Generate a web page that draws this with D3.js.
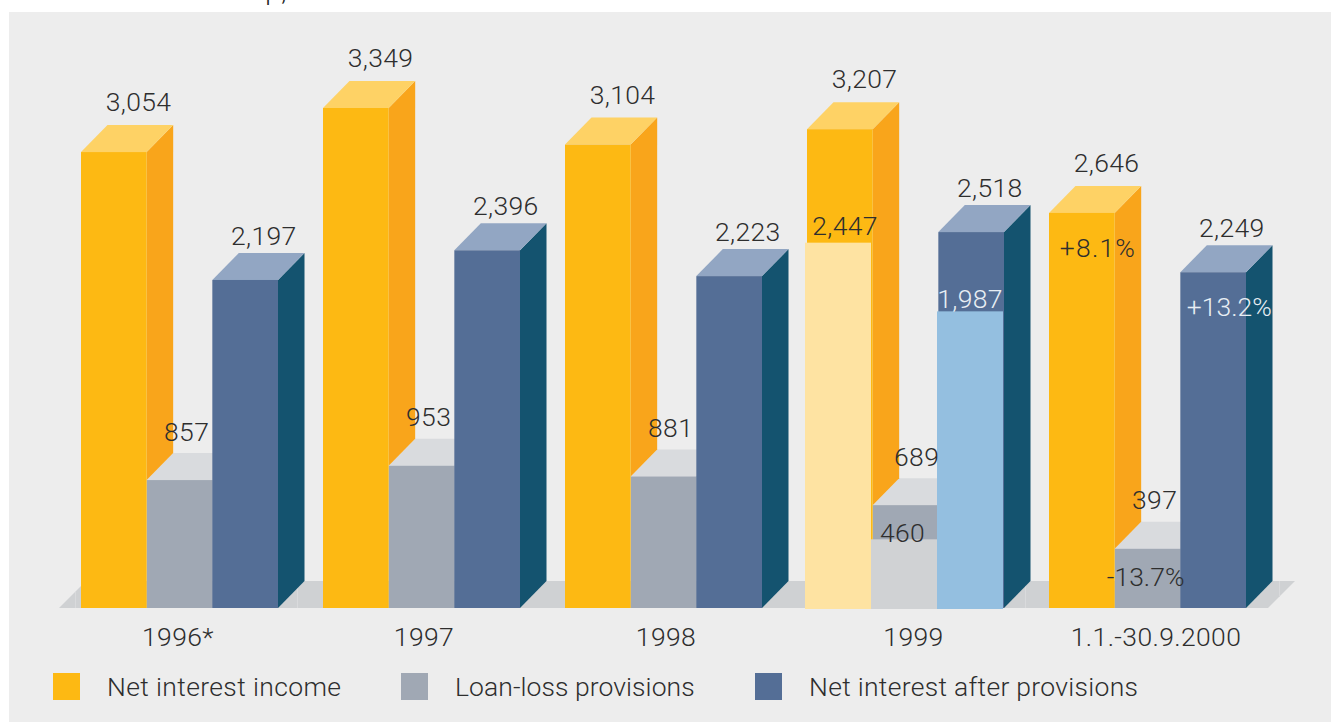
<!DOCTYPE html>
<html>
<head>
<meta charset="utf-8">
<script src="https://cdn.jsdelivr.net/npm/d3@7"></script>
<style>
  html, body { margin: 0; padding: 0; background: #fff; overflow: hidden; }
  svg { display: block; }
  text { font-family: Roboto, "Open Sans", sans-serif; font-weight: 300; font-size: 26.5px; letter-spacing: 0.37px; fill: #2e2e2e; }
</style>
</head>
<body>
<svg id="chart" width="1331" height="722"></svg>
<script>
// Figures in EUR million
const caption = "Net interest in Group, € m";
const periods = ["1996*", "1997", "1998", "1999", "1.1.-30.9.2000"];
const seriesNames = ["Net interest income", "Loan-loss provisions", "Net interest after provisions"];
const netInterestIncome = [3054, 3349, 3104, 3207, 2646];
const loanLossProvisions = [857, 953, 881, 689, 397];
const netInterestAfter = [2197, 2396, 2223, 2518, 2249];
// Nine-month comparatives for 1999, overlaid on the full-year columns
const comparative1999 = [2447, 460, 1987];
// Change against the comparatives, shown on the 2000 columns
const changeLabels = ["+8.1%", "-13.7%", "+13.2%"];

const svg = d3.select("#chart");
const W = 1331, H = 722;
const baseY = 608, plotTop = 108, depthX = 26.5, depthY = 27;

const palettes = [
  { front: "#fdb913", side: "#f9a51b", top: "#fed265", ghost: "#fee3a2" },
  { front: "#a0a8b4", side: "#a0a8b4", top: "#d9dbde", ghost: "#d0d2d4" },
  { front: "#546e96", side: "#14536f", top: "#92a6c3", ghost: "#94bfe0" }
];
const allSeries = [netInterestIncome, loanLossProvisions, netInterestAfter];

const groupX = d3.scaleBand().domain(periods).range([81, 1291]);
const barX = d3.scaleBand().domain(d3.range(3)).range([0, 197]);
const ghostX = d3.scaleBand().domain(d3.range(3)).range([-2, 196]);
const y = d3.scaleLinear().domain([0, 3349]).range([baseY, plotTop]);
const fmt = d3.format(",");

// Page caption running off the top edge, then the panel
svg.append("text").attr("x", 15).attr("y", 0).style("fill", "#222").style("letter-spacing", "1.3px").text(caption);
svg.append("rect").attr("x", 9).attr("y", 12).attr("width", W - 9).attr("height", H - 12).attr("fill", "#ededed");

// Floor slab under the columns
svg.append("polygon")
  .attr("points", [[59, baseY], [86, baseY - depthY], [1295, baseY - depthY], [1268, baseY]].join(" "))
  .attr("fill", "#cfd1d3");
// Pale seams where the slab sections join
[[75, 592, 608], [297, 581, 608], [1025, 581, 608], [1279, 581, 597]].forEach(([sx, y1, y2]) => {
  svg.append("line").attr("x1", sx + 0.5).attr("x2", sx + 0.5)
    .attr("y1", y1).attr("y2", y2)
    .attr("stroke", "#d9dadc").attr("stroke-width", 1);
});

// One extruded column: side face down to sideEnd, top face, front face
function column(g, x, w, value, pal, sideEnd) {
  const top = y(value), end = y(sideEnd);
  g.append("polygon")
    .attr("points", [[x + w, top], [x + w + depthX, top - depthY], [x + w + depthX, end - depthY], [x + w, end]].join(" "))
    .attr("fill", pal.side);
  g.append("polygon")
    .attr("points", [[x, top], [x + depthX, top - depthY], [x + w + depthX, top - depthY], [x + w, top]].join(" "))
    .attr("fill", pal.top);
  g.append("rect").attr("x", x).attr("y", top).attr("width", w).attr("height", baseY - top).attr("fill", pal.front);
}

// Label offsets from each column's left edge and top
const labelDx = [57.5, 40, 51.5];
const labelDy = [-41, -39.5, -35];
const provisionsNudge = [0, 0, 0, 4, 0];
const periodDx = [97, 101, 101, 106.5, 107];

const bars = svg.append("g");
const labels = svg.append("g");

periods.forEach((p, i) => {
  const x0 = groupX(p), w = barX.bandwidth();
  // The grey column sits behind the orange side face, the blue front hides the grey top's end
  column(bars, x0 + barX(1), w, loanLossProvisions[i], palettes[1], 0);
  column(bars, x0 + barX(0), w, netInterestIncome[i], palettes[0], loanLossProvisions[i]);
  column(bars, x0 + barX(2), w, netInterestAfter[i], palettes[2], 0);

  [0, 1, 2].forEach(s => {
    labels.append("text")
      .attr("x", x0 + barX(s) + labelDx[s] + (s === 1 ? provisionsNudge[i] : 0))
      .attr("y", y(allSeries[s][i]) + labelDy[s])
      .attr("text-anchor", "middle")
      .text(fmt(allSeries[s][i]));
  });
  labels.append("text").attr("x", x0 + periodDx[i]).attr("y", 645.5).attr("text-anchor", "middle").text(p);
});

// 1999 comparatives
const x1999 = groupX("1999");
comparative1999.forEach((v, s) => {
  bars.append("rect").attr("x", x1999 + ghostX(s)).attr("y", y(v))
    .attr("width", ghostX.bandwidth()).attr("height", baseY + 1 - y(v))
    .attr("fill", palettes[s].ghost);
});
const ghostLabelDx = [40, 31.5, 33];
const ghostLabelDy = [-7.5, 2.5, -3];
comparative1999.forEach((v, s) => {
  labels.append("text")
    .attr("x", x1999 + ghostX(s) + ghostLabelDx[s])
    .attr("y", y(v) + ghostLabelDy[s])
    .attr("text-anchor", "middle")
    .style("fill", s === 2 ? "#e8eef4" : null)
    .text(fmt(v));
});

// Percentage changes on the 2000 columns
const x2000 = groupX(periods[4]);
const changeDx = [49, 31, 49];
const changeDy = [44, 37.5, 44];
const changeSpacing = [1.2, 0, 0];
changeLabels.forEach((t, s) => {
  labels.append("text")
    .attr("x", x2000 + barX(s) + changeDx[s])
    .attr("y", y(allSeries[s][4]) + changeDy[s])
    .attr("text-anchor", "middle")
    .style("fill", s === 2 ? "#e8eef4" : null)
    .style("letter-spacing", changeSpacing[s] + "px")
    .text(t);
});

// Legend
const legendX = [53, 401, 755], legendText = [107, 455, 809];
const legendSpacing = [0.37, 0.07, 0.3];
seriesNames.forEach((n, s) => {
  svg.append("rect").attr("x", legendX[s]).attr("y", 673).attr("width", 27).attr("height", 27).attr("fill", palettes[s].front);
  svg.append("text").attr("x", legendText[s]).attr("y", 695.5).style("letter-spacing", legendSpacing[s] + "px").text(n);
});
</script>
</body>
</html>
